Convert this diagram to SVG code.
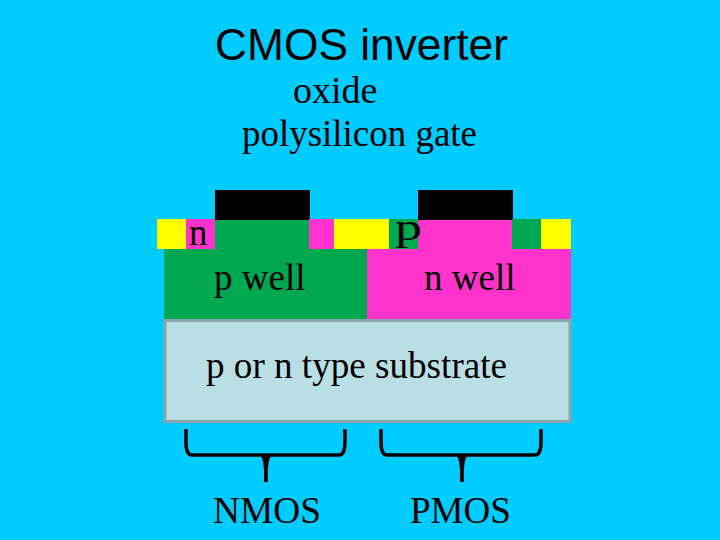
<svg xmlns="http://www.w3.org/2000/svg" width="720" height="540" viewBox="0 0 720 540">
<style>
.s{font-family:"Liberation Serif","Times New Roman",serif;fill:#000}
.l{font-size:37px}
.br{fill:none;stroke:#000;stroke-width:3.500}
.stem{fill:#000}
</style>
<rect width="720" height="540" fill="#00ccff"/>
<text x="361.500" y="60" text-anchor="middle" font-family="Liberation Sans, Arial, sans-serif" font-size="44.300" fill="#000">CMOS inverter</text>
<text class="s" font-size="38" x="293" y="103">oxide</text>
<text class="s l" x="242" y="146" textLength="235" lengthAdjust="spacingAndGlyphs">polysilicon gate</text>
<g id="substrate">
<rect x="165" y="320.500" width="405" height="101" fill="#b9dfe4" stroke="#8aa6ab" stroke-width="3"/>
<text class="s l" x="206" y="378" textLength="301" lengthAdjust="spacingAndGlyphs">p or n type substrate</text>
</g>
<g id="p-well">
<rect x="164" y="249" width="203" height="70" fill="#00a84f"/>
<rect x="215" y="219" width="94" height="30" fill="#00a84f"/>
<text class="s l" x="214" y="290">p well</text>
</g>
<g id="n-well">
<rect x="367" y="249" width="204" height="70" fill="#ff33cc"/>
<rect x="418" y="219" width="94" height="30" fill="#ff33cc"/>
<text class="s l" x="424" y="290">n well</text>
</g>
<g id="nmos-gate"><rect x="215" y="190" width="95" height="30" fill="#000"/></g>
<g id="pmos-gate"><rect x="418" y="190" width="95" height="30" fill="#000"/></g>
<g id="nmos-contacts">
<rect x="157" y="219" width="29" height="30" fill="#ffff00"/>
<rect x="186" y="219" width="29" height="30" fill="#ff33cc"/>
<text class="s l" x="189" y="245">n</text>
<rect x="309" y="219" width="25" height="30" fill="#ff33cc"/>
</g>
<g id="pmos-contacts">
<rect x="334" y="219" width="55" height="30" fill="#ffff00"/>
<rect x="389" y="219" width="29" height="30" fill="#00a84f"/>
<rect x="512" y="219" width="29" height="30" fill="#00a84f"/>
<rect x="541" y="219" width="30" height="30" fill="#ffff00"/>
<text class="s l" x="395" y="240" textLength="27" lengthAdjust="spacingAndGlyphs">p</text>
</g>
<g id="connectors">
<path class="br" d="M186 429V442Q186 455 192 455H339Q345 455 345 442V429"/>
<path class="stem" d="M261 455H271Q267.800 462 267.800 470V482H264V470Q264 462 261 455Z"/>
<path class="br" d="M381 429V442Q381 455 387 455H535Q541 455 541 442V429"/>
<path class="stem" d="M457 455H467Q463.800 462 463.800 470V482H460V470Q460 462 457 455Z"/>
</g>
<g id="nmos-label"><text class="s" font-size="38" x="213" y="523" textLength="108" lengthAdjust="spacingAndGlyphs">NMOS</text></g>
<g id="pmos-label"><text class="s" font-size="38" x="410" y="523" textLength="101" lengthAdjust="spacingAndGlyphs">PMOS</text></g>
</svg>
